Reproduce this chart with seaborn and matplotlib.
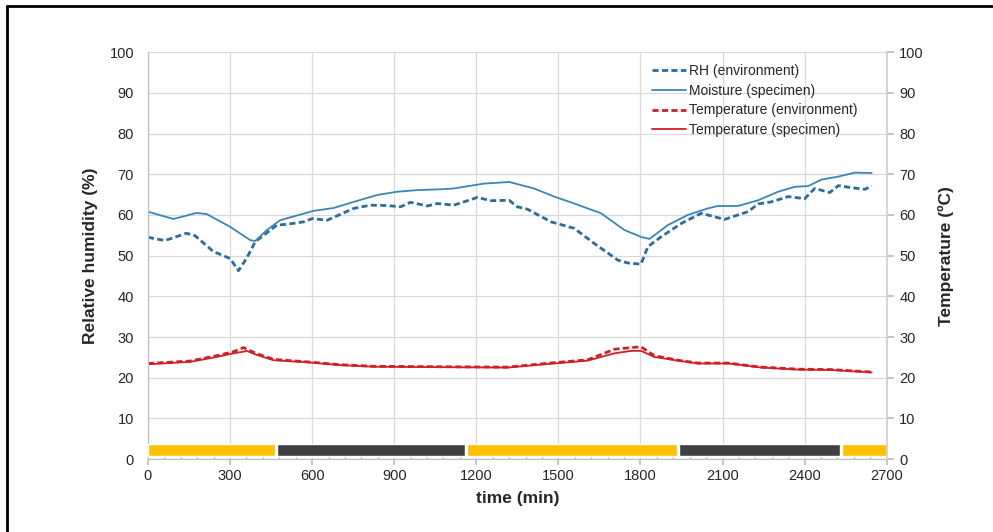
import pandas as pd
import numpy as np
import matplotlib
matplotlib.use("Agg")
import matplotlib.pyplot as plt
from matplotlib.lines import Line2D
import seaborn as sns

# Relative humidity of the environment (dashed blue)
rh_time = [0, 62, 141, 172, 239, 300, 331, 361, 392, 471, 508, 569, 600, 655, 752, 813,
           874, 923, 960, 1021, 1057, 1118, 1204, 1253, 1320, 1350, 1387, 1473, 1558,
           1631, 1717, 1753, 1802, 1827, 1875, 1949, 2022, 2107, 2193, 2230, 2278, 2340,
           2400, 2437, 2492, 2523, 2571, 2620, 2645]
rh_env = [54.5, 53.7, 55.5, 54.9, 51.0, 49.3, 46.3, 49.4, 53.4, 57.5, 57.7, 58.3, 59.1,
          58.7, 61.6, 62.4, 62.3, 62.0, 63.1, 62.2, 62.8, 62.4, 64.3, 63.5, 63.6, 62.0,
          61.4, 58.3, 56.7, 53.0, 48.9, 48.2, 47.9, 52.2, 54.6, 57.9, 60.4, 58.9, 60.8,
          62.7, 63.2, 64.5, 64.0, 66.5, 65.5, 67.2, 66.7, 66.3, 67.1]

# Moisture of the specimen (solid blue)
moist_time = [0, 93, 178, 215, 300, 374, 392, 435, 483, 605, 678, 752, 838, 911, 984,
              1070, 1118, 1228, 1320, 1411, 1485, 1558, 1656, 1741, 1802, 1833, 1900,
              1973, 2046, 2083, 2156, 2230, 2303, 2364, 2413, 2462, 2522, 2584, 2645]
moisture = [60.8, 59.0, 60.5, 60.2, 57.1, 53.8, 53.6, 56.3, 58.7, 61.0, 61.7, 63.2, 64.9,
            65.7, 66.1, 66.3, 66.5, 67.7, 68.1, 66.5, 64.5, 62.8, 60.4, 56.3, 54.6, 54.1,
            57.5, 60.0, 61.6, 62.2, 62.2, 63.6, 65.7, 66.9, 67.1, 68.7, 69.4, 70.4, 70.3]

# Temperatures (red)
temp_time = [0, 154, 251, 313, 349, 361, 398, 459, 581, 703, 825, 1070, 1314, 1485, 1607,
             1705, 1766, 1802, 1851, 1937, 2010, 2120, 2242, 2376, 2498, 2645]
temp_env = [23.5, 24.1, 25.4, 26.4, 27.4, 27.0, 25.9, 24.5, 23.9, 23.2, 22.8, 22.7, 22.6,
            23.7, 24.4, 27.0, 27.4, 27.6, 25.4, 24.3, 23.6, 23.6, 22.6, 22.1, 22.0, 21.4]
temp_spec = [23.3, 23.9, 25.1, 26.0, 26.4, 26.6, 25.6, 24.3, 23.8, 23.1, 22.7, 22.6, 22.5,
             23.5, 24.2, 26.0, 26.6, 26.6, 25.1, 24.2, 23.5, 23.5, 22.5, 22.0, 21.9, 21.3]

# Light / dark periods shown as a strip at the bottom
phase_start = [0, 470, 1165, 1940, 2535]
phase_end = [465, 1160, 1935, 2530, 2700]
phase_kind = ["light", "dark", "light", "dark", "light"]

sns.set_theme(style="whitegrid")
plt.rcParams['font.family'] = ['Liberation Sans', 'DejaVu Sans']

fig = plt.figure(figsize=(9.93, 5.32), dpi=100)
ax = fig.add_axes([0.149, 0.137, 0.744, 0.765])

blue_dash = '#2B6C9C'
blue_solid = '#3A86B8'
red = '#D21F26'

sns.lineplot(x=rh_time, y=rh_env, ax=ax, color=blue_dash, lw=2.0,
             label='RH (environment)')
ax.lines[-1].set_dashes((2.2, 1.2))
sns.lineplot(x=moist_time, y=moisture, ax=ax, color=blue_solid, lw=1.3,
             label='Moisture (specimen)')
sns.lineplot(x=temp_time, y=temp_env, ax=ax, color=red, lw=2.0,
             label='Temperature (environment)')
ax.lines[-1].set_dashes((2.2, 1.2))
sns.lineplot(x=temp_time, y=temp_spec, ax=ax, color=red, lw=1.3,
             label='Temperature (specimen)')

# light cycle strip
strip = pd.DataFrame({'start': phase_start, 'end': phase_end, 'kind': phase_kind})
colors = {'light': '#FFC000', 'dark': '#404040'}
ax.bar(strip['start'], 2.9, width=strip['end'] - strip['start'], bottom=0.7,
       align='edge', color=[colors[k] for k in strip['kind']], zorder=3)

ax.set_xlim(0, 2700)
ax.set_ylim(0, 100)
ax.set_xticks(np.arange(0, 2701, 300))
ax.set_xticks(np.arange(0, 2701, 60), minor=True)
ax.set_yticks(np.arange(0, 101, 10))
ax.grid(True, which='major', color='#D9D9D9', lw=0.9)
ax.grid(False, which='minor')
ax.tick_params(axis='x', which='major', direction='out', length=4, color='#BFBFBF',
               labelsize=10.5, pad=3, bottom=True)
ax.tick_params(axis='x', which='minor', direction='in', length=3, color='#BFBFBF',
               bottom=True)
ax.tick_params(axis='y', length=0, labelsize=10.5, pad=10)
for side in ['top', 'right']:
    ax.spines[side].set_visible(False)
for side in ['left', 'bottom']:
    ax.spines[side].set_color('#BFBFBF')
    ax.spines[side].set_linewidth(0.9)
ax.set_xlabel('time (min)', fontsize=12.5, fontweight='bold', labelpad=6)
ax.set_ylabel('Relative humidity (%)', fontsize=12.5, fontweight='bold', labelpad=8)

ax2 = ax.twinx()
ax2.set_ylim(0, 100)
ax2.set_yticks(np.arange(0, 101, 10))
ax2.grid(False)
ax2.tick_params(axis='y', direction='out', length=5, color='#BFBFBF', labelsize=10.5,
                pad=4)
for side in ['top', 'left', 'bottom']:
    ax2.spines[side].set_visible(False)
ax2.spines['right'].set_color('#D0D0D0')
ax2.set_ylabel('Temperature (ºC)', fontsize=12.5, fontweight='bold', labelpad=10)

leg = ax.legend(loc='upper left', bbox_to_anchor=(0.675, 0.985), frameon=False,
                fontsize=10, handlelength=2.4, handletextpad=0.25, labelspacing=0.42,
                borderaxespad=0)

# picture frame on the left and top edges
fig.add_artist(Line2D([0.007, 0.007], [0, 0.989], color='black', lw=2))
fig.add_artist(Line2D([0.007, 1], [0.989, 0.989], color='black', lw=2))

fig.savefig('out.png', dpi=100)
